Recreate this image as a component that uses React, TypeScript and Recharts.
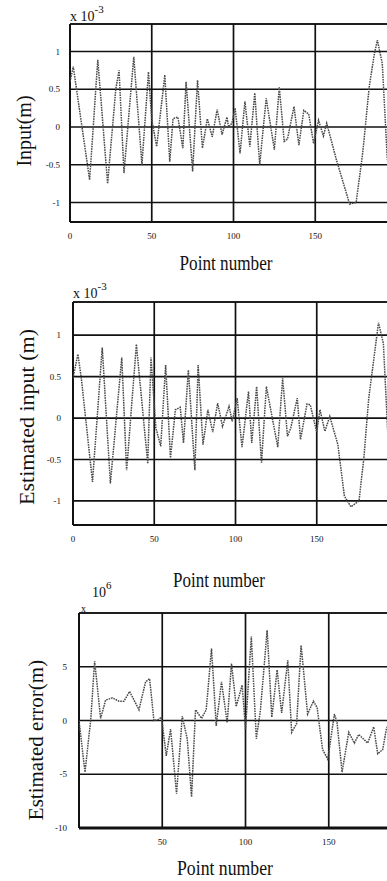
import React from 'react';
import { LineChart, Line, XAxis, YAxis, CartesianGrid, ReferenceLine } from 'recharts';

// ---- Data: Input (x 10^-3 m) ----
const inputPoints = [0, 2, 4, 12, 17, 23, 28, 30, 33, 39, 44, 48, 50, 53, 58, 61, 63, 66, 69, 71, 75, 78, 81, 84, 87, 90, 93, 96, 97, 99, 101, 104, 107, 110, 113, 116, 120, 125, 128, 131, 133, 137, 140, 143, 146, 149, 152, 155, 157, 163, 168, 171, 175, 179, 183, 186, 188, 191, 194, 197];
const inputValues = [0.6, 0.8, 0.5, -0.7, 0.89, -0.75, 0.5, 0.75, -0.61, 0.93, -0.5, 0.73, 0.1, -0.26, 0.69, -0.46, 0.11, 0.13, -0.28, 0.6, -0.59, 0.62, -0.28, 0.11, -0.13, 0.23, -0.1, 0.13, 0, 0.05, 0.25, -0.35, 0.34, -0.26, 0.45, -0.5, 0.38, -0.3, 0.53, -0.19, -0.16, 0.27, -0.24, 0.22, 0.17, -0.22, 0.09, -0.12, 0.05, -0.44, -0.8, -1.02, -1.0, -0.35, 0.53, 0.95, 1.15, 0.84, -0.4, -0.9];

// ---- Data: Estimated input (x 10^-3 m) ----
const estInputPoints = [0, 3, 5, 12, 18, 23, 30, 33, 39, 46, 48, 51, 54, 57, 60, 63, 66, 68, 71, 75, 77, 80, 83, 86, 89, 92, 96, 98, 101, 104, 108, 110, 113, 116, 119, 126, 129, 132, 134, 138, 140, 144, 146, 150, 152, 155, 158, 163, 167, 171, 176, 179, 182, 188, 191, 194, 197];
const estInputValues = [0.48, 0.77, 0.5, -0.77, 0.85, -0.79, 0.73, -0.63, 0.89, -0.55, 0.73, -0.12, -0.34, 0.64, -0.48, 0.1, 0.13, -0.3, 0.58, -0.63, 0.64, -0.32, 0.1, -0.17, 0.18, -0.1, 0.14, -0.04, 0.24, -0.35, 0.32, -0.3, 0.38, -0.54, 0.38, -0.35, 0.48, -0.22, -0.12, 0.24, -0.26, 0.17, 0.16, -0.17, 0.1, -0.16, 0.02, -0.32, -0.94, -1.07, -1.0, -0.48, 0.24, 1.15, 0.9, -0.3, -0.9];

// ---- Data: Estimated error (x 10^-6 m) ----
const errorPoints = [0, 3.6, 7, 9.4, 13, 16, 20, 24, 27, 30.4, 36, 40, 42.4, 45, 47.6, 49.6, 52.4, 55, 58.6, 62, 65, 67.6, 70, 73.6, 76.4, 79.6, 82.4, 85.6, 89, 91.6, 94.4, 98, 100, 103.5, 106.5, 109, 113, 115.8, 119, 121.7, 125.4, 127.7, 130.7, 133.4, 137.3, 140.8, 143, 146.3, 149.4, 153.4, 155, 158, 162, 165.4, 168, 173.4, 177, 179.4, 182.4, 184.6, 188];
const errorValues = [0, -4.8, 0, 5.5, 0.2, 1.9, 2.1, 1.8, 1.8, 2.7, 1.0, 3.6, 3.9, 0, 0.1, 0.3, -3.3, -0.8, -6.8, 0.4, -1.7, -7.1, 1.0, 0.2, 1.0, 6.7, -0.5, 3.6, -0.2, 5.3, 1.3, 3.3, -0.8, 7.8, -1.7, 1.0, 8.4, 0.3, 4.7, 0.7, 5.6, -1.1, -0.3, 7.0, 0.6, 1.8, 1.2, -2.7, -3.6, 0.6, -0.2, -4.8, -1.1, -2.1, -1.3, -2.1, -0.6, -3.1, -2.7, -0.8, 0.5];

// ---- Ticks ----
const xTicks = [0, 50, 100, 150];
const errorXTicks = [50, 100, 150];
const inputYTicks = [-1, -0.5, 0, 0.5, 1];
const errorYTicks = [-10, -5, 0, 5];

const FONT = '"Liberation Serif", "DejaVu Serif", serif';
const INK = '#111';

type Row = { n: number; v: number };
const toRows = (xs: number[], ys: number[]): Row[] => xs.map((x, i) => ({ n: x, v: ys[i] }));

type PanelProps = {
  data: Row[];
  plotTop: number;
  plotLeft: number;
  plotWidth: number;
  plotHeight: number;
  yDomain: [number, number];
  yTicks: number[];
  xTicks: number[];
  yTickMargin: number;
  bottomWidth: number;
};

function Panel(p: PanelProps) {
  const mt = 10;
  const axisH = 30;
  return (
    <div style={{ position: 'absolute', left: 0, top: p.plotTop - mt }}>
      <LineChart
        width={p.plotLeft + p.plotWidth}
        height={mt + p.plotHeight + axisH}
        data={p.data}
        margin={{ top: mt, right: 0, bottom: 0, left: 0 }}
      >
        <CartesianGrid stroke={INK} strokeWidth={1.7} />
        <XAxis
          dataKey="n"
          type="number"
          domain={[0, 200]}
          ticks={p.xTicks}
          interval={0}
          tickLine={false}
          axisLine={false}
          tickSize={0}
          tickMargin={11}
          height={axisH}
          tick={{ fontSize: 9, fill: INK, fontFamily: FONT }}
          allowDataOverflow
        />
        <YAxis
          type="number"
          domain={p.yDomain}
          ticks={p.yTicks}
          interval={0}
          tickLine={false}
          axisLine={false}
          tickSize={0}
          tickMargin={p.yTickMargin}
          width={p.plotLeft}
          tick={{ fontSize: 9, fill: INK, fontFamily: FONT }}
          allowDataOverflow
        />
        <ReferenceLine y={p.yDomain[1]} stroke={INK} strokeWidth={1.7} />
        <ReferenceLine y={p.yDomain[0]} stroke={INK} strokeWidth={p.bottomWidth} />
        <ReferenceLine x={0} stroke={INK} strokeWidth={1.9} />
        <Line
          type="linear"
          dataKey="v"
          stroke="#4a4a4a"
          strokeWidth={1.5}
          strokeDasharray="1.6 0.9"
          dot={false}
          isAnimationActive={false}
        />
      </LineChart>
    </div>
  );
}

function Texts() {
  const t = { fontFamily: FONT, fill: INK } as const;
  return (
    <svg width={387} height={881} style={{ position: 'absolute', left: 0, top: 0, pointerEvents: 'none' }}>
      {/* Panel 1 */}
      <text x={70} y={21} fontSize={14} {...t}>
        x 10<tspan dy={-8} fontSize={11}>-3</tspan>
      </text>
      <text x={226} y={270} fontSize={20} textAnchor="middle" textLength={93} lengthAdjust="spacingAndGlyphs" {...t}>
        Point number
      </text>
      <text x={31} y={131} fontSize={20} textAnchor="middle" transform="rotate(-90 31 131)" {...t}>
        Input(m)
      </text>
      {/* Panel 2 */}
      <text x={73} y={298} fontSize={14} {...t}>
        x 10<tspan dy={-8} fontSize={11}>-3</tspan>
      </text>
      <text x={219} y={587} fontSize={20} textAnchor="middle" textLength={92} lengthAdjust="spacingAndGlyphs" {...t}>
        Point number
      </text>
      <text x={34} y={417} fontSize={22} textAnchor="middle" transform="rotate(-90 34 417)" {...t}>
        Estimated input (m)
      </text>
      {/* Panel 3 */}
      <text x={92} y={597} fontSize={14} {...t}>
        10<tspan dy={-8} fontSize={11}>6</tspan>
      </text>
      <text x={81} y={612} fontSize={10} {...t}>
        x
      </text>
      <text x={225} y={875} fontSize={20} textAnchor="middle" textLength={96} lengthAdjust="spacingAndGlyphs" {...t}>
        Point number
      </text>
      <text x={43} y={740} fontSize={21} textAnchor="middle" transform="rotate(-90 43 740)" {...t}>
        Estimated error(m)
      </text>
    </svg>
  );
}

export default function App() {
  return (
    <div style={{ position: 'absolute', left: 0, top: 0, width: 387, height: 881, overflow: 'hidden', background: '#fff' }}>
      <Panel
        data={toRows(inputPoints, inputValues)}
        plotTop={24}
        plotLeft={70}
        plotWidth={327}
        plotHeight={198}
        yDomain={[-1.258, 1.364]}
        yTicks={inputYTicks}
        xTicks={xTicks}
        yTickMargin={10}
        bottomWidth={1.9}
      />
      <Panel
        data={toRows(estInputPoints, estInputValues)}
        plotTop={302}
        plotLeft={73}
        plotWidth={325}
        plotHeight={223}
        yDomain={[-1.29, 1.4]}
        yTicks={inputYTicks}
        xTicks={xTicks}
        yTickMargin={12}
        bottomWidth={1.9}
      />
      <Panel
        data={toRows(errorPoints, errorValues)}
        plotTop={613}
        plotLeft={79}
        plotWidth={333}
        plotHeight={215}
        yDomain={[-10, 10]}
        yTicks={errorYTicks}
        xTicks={errorXTicks}
        yTickMargin={12}
        bottomWidth={3.2}
      />
      <Texts />
    </div>
  );
}
